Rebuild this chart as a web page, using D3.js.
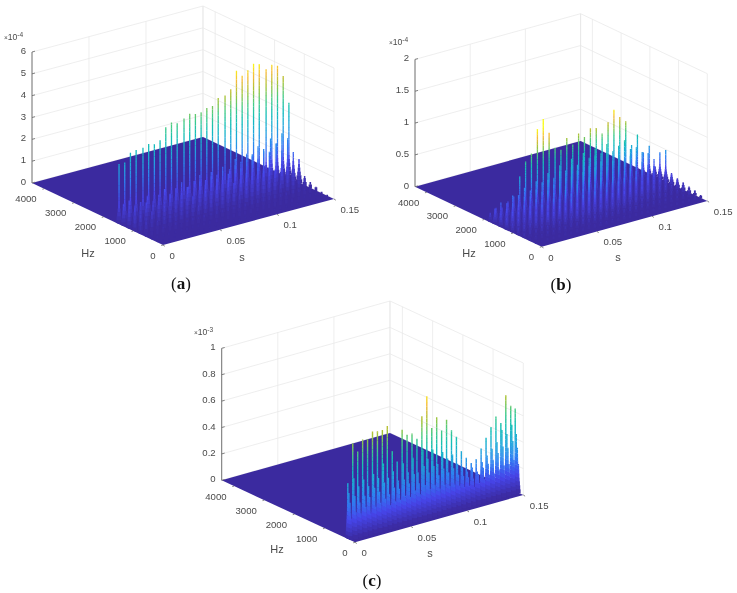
<!DOCTYPE html>
<html>
<head>
<meta charset="utf-8">
<script src="https://cdn.jsdelivr.net/npm/d3@7"></script>
<style>
html,body{margin:0;padding:0;background:#fff;}
svg{display:block;filter:blur(0.35px);}
text{font-family:"Liberation Sans",Arial,sans-serif;font-size:9.6px;fill:#4a4a4a;}
.cap{font-family:"Liberation Serif",serif;font-size:17px;fill:#111;}
</style>
</head>
<body>
<svg id="chart" width="737" height="593"></svg>
<script>
// ---- shared tick labels ----
const sTicks = [0, 0.05, 0.1, 0.15];
const hzTicks = [0, 1000, 2000, 3000, 4000];
const sMax = 0.15, hzMax = 4410;

// ---- panel (a) values (units of 1e-4) ----
const aZTicks = [0, 1, 2, 3, 4, 5, 6];
const aTimes = [0,.005,.010,.015,.021,.026,.031,.036,.041,.046,.051,.057,.062,.067,.072,.077,.082,.087,.093,.098,.103,.108,.113,.118,.123,.129,.134,.139,.144,.149];
const aRowsHz = [1480,1330,1140,950,760,570,380,190];
const aR8 = [2.75,2.75,3.13,3.18,3.2,3.3,3.22,3.33,3.86,4.0,3.9,4.03,4.18,4.1,4.1,4.23,4.26,4.55,4.58,4.8,5.57,5.28,5.46,5.74,5.66,5.28,5.68,5.3,4.76,3.46];
const aR7 = [1.0,1.1,.8,.9,1.1,.8,1.0,1.2,.9,1.1,1.3,1.0,1.2,1.4,1.1,1.4,1.2,1.5,1.3,1.7,1.5,1.8,1.6,2.0,1.7,2.2,1.9,2.3,2.0,.9];
const aR6 = [.8,.9,.7,1.0,.8,.9,.8,1.1,.9,1.0,1.2,.9,1.3,1.1,1.4,1.2,1.5,1.3,1.6,1.4,1.7,1.9,1.6,2.0,1.8,2.1,1.7,1.9,1.5,1.1];
const aR5 = [.6,.7,.5,.7,.6,.8,.6,.7,.8,.7,.9,.8,1.0,.8,1.1,.9,1.2,1.0,1.1,1.3,1.1,1.4,1.2,1.3,1.1,1.2,1.0,.9,.8,.45];
const aR4 = [.4,.5,.4,.4,.5,.5,.4,.6,.5,.5,.6,.6,.7,.5,.7,.6,.7,.6,.8,.7,.8,.7,.8,.7,.6,.7,.6,.5,.5,.3];
const aR3 = [.2,.2,.2,.25,.2,.3,.2,.25,.3,.25,.3,.3,.35,.3,.35,.3,.35,.3,.4,.35,.4,.35,.35,.3,.3,.35,.3,.25,.25,.2];
const aR2 = [.1,.12,.1,.12,.1,.14,.12,.14,.12,.15,.14,.16,.14,.18,.16,.18,.16,.18,.16,.2,.18,.2,.18,.18,.16,.16,.14,.14,.12,.1];
const aR1 = [.05,.06,.05,.06,.06,.07,.06,.07,.07,.08,.07,.08,.08,.09,.08,.09,.08,.09,.08,.1,.09,.1,.09,.09,.08,.08,.07,.07,.06,.08];

// ---- panel (b) values (units of 1e-4) ----
const bZTicks = [0, 0.5, 1, 1.5, 2];
const bTimes = [0,.0053,.0107,.016,.0213,.0267,.032,.0373,.0427,.048,.0533,.0587,.064,.0693,.0747,.08,.0853,.0907,.096,.1013,.1067,.112,.1173,.1227,.128,.1333,.1387,.144,.1493];
const bRowsHz = [1790,1624,1421,1218,1015,812,609,406,203];
const bR9 = [.15,.2,.18,.25,.3,.59,.80,.90,1.26,1.39,1.15,.89,.83,.99,.86,1.01,.93,1.04,1.02,.91,1.06,1.23,1.09,1.0,.6,.74,.43,.51,.16];
const bR8 = [.25,.32,.28,.38,.36,.45,.38,.5,.46,.58,.48,.65,.54,.7,.58,.74,.64,.76,.66,.78,.64,.7,.76,.6,.6,.5,.46,.34,.42];
const bR7 = [.22,.26,.32,.28,.38,.36,.44,.38,.54,.44,.62,.5,.64,.56,.7,.58,.72,.6,.7,.56,.62,.52,.56,.46,.42,.34,.3,.26,.5];
const bR6 = [.19,.26,.23,.31,.28,.36,.33,.44,.38,.5,.44,.56,.46,.58,.48,.6,.5,.56,.46,.52,.42,.44,.36,.38,.3,.28,.22,.24,.18];
const bR5 = [.15,.19,.18,.26,.23,.31,.28,.36,.33,.44,.36,.48,.38,.5,.4,.48,.38,.45,.35,.38,.32,.34,.26,.28,.22,.2,.18,.22,.14];
const bR4 = [.12,.14,.14,.19,.17,.24,.22,.29,.24,.34,.26,.36,.29,.36,.29,.34,.26,.31,.24,.26,.21,.23,.18,.2,.16,.15,.13,.19,.12];
const bR3 = [.08,.1,.09,.12,.1,.14,.12,.16,.14,.2,.16,.2,.16,.2,.16,.18,.14,.18,.14,.16,.12,.14,.12,.12,.1,.1,.1,.14,.1];
const bR2 = [.05,.06,.06,.08,.07,.09,.08,.1,.09,.12,.1,.12,.1,.12,.1,.11,.09,.1,.09,.1,.08,.09,.08,.08,.07,.07,.07,.1,.08];
const bR1 = [.03,.03,.04,.04,.04,.05,.04,.05,.05,.06,.05,.06,.05,.06,.05,.06,.05,.05,.05,.05,.04,.05,.04,.04,.04,.04,.04,.06,.05];

// ---- panel (c) values (units of 1e-3) ----
const cZTicks = [0, 0.2, 0.4, 0.6, 0.8, 1];
const cTimes = [.0002,.0046,.009,.0134,.0178,.0222,.0266,.031,.0354,.0398,.0442,.0486,.053,.0574,.0618,.0662,.0706,.075,.0794,.0838,.0882,.0926,.097,.1014,.1058,.1102,.1146,.119,.1234,.1278,.1322,.1366,.141,.1454,.1494];
const cRowsHz = [245,210,175,140];
const cR4 = [.42,.71,.64,.72,.71,.76,.75,.75,.77,.57,.48,.71,.66,.66,.61,.77,.91,.66,.73,.62,.69,.6,.54,.42,.36,.31,.33,.4,.47,.54,.61,.55,.75,.66,.63];
const cR3 = [.35,.45,.38,.42,.36,.44,.4,.5,.38,.42,.34,.46,.38,.48,.36,.52,.44,.5,.38,.46,.4,.42,.34,.3,.26,.28,.24,.3,.34,.38,.42,.5,.46,.52,.44];
const cR2 = [.28,.32,.26,.3,.28,.34,.3,.36,.26,.3,.28,.34,.3,.36,.28,.4,.34,.38,.3,.34,.3,.32,.26,.24,.22,.2,.22,.26,.28,.3,.34,.38,.36,.4,.34];
const cR1 = [.16,.2,.18,.22,.16,.2,.22,.24,.18,.2,.2,.22,.2,.24,.2,.26,.22,.24,.2,.22,.2,.2,.18,.16,.16,.14,.16,.18,.2,.2,.22,.24,.24,.26,.22];

// ---- colour map (parula) ----
const parulaStops = ["#3b2a9f","#4746eb","#2f80f3","#1fa8db","#12beb9","#45cb86","#a6c336","#f5ba3c","#f9fb15"];
const parula = d3.scaleLinear().domain(d3.range(parulaStops.length).map(i => i / (parulaStops.length - 1))).range(parulaStops).clamp(true);

// ---- panel layouts ----
const panels = [
  {times:aTimes, hz:aRowsHz, rows:[aR8,aR7,aR6,aR5,aR4,aR3,aR2,aR1], zTicks:aZTicks, zMax:6, cMax:5.7, gamma:1.2, exp:"-4", cap:"a",
   front:[163,245], right:[334,199], left:[32,183], h:131, exPos:[4,40], hzLab:[88,257], sLab:[242,261], capPos:[181,289], w:1.3, baseW:6.5, footK:.2},
  {times:bTimes, hz:bRowsHz, rows:[bR9,bR8,bR7,bR6,bR5,bR4,bR3,bR2,bR1], zTicks:bZTicks, zMax:2, cMax:1.25, gamma:1.2, exp:"-4", cap:"b",
   front:[541.7,246.7], right:[707.3,201], left:[415,186.7], h:127.3, exPos:[389,45], hzLab:[469,257], sLab:[618,261], capPos:[561,290], w:1.3, baseW:6.5, footK:.2},
  {times:cTimes, hz:cRowsHz, rows:[cR4,cR3,cR2,cR1], zTicks:cZTicks, zMax:1, cMax:.95, gamma:1.1, exp:"-3", cap:"c",
   front:[355,542.3], right:[523.3,495], left:[221.7,480.3], h:132, exPos:[194,335], hzLab:[277,553], sLab:[430,557], capPos:[372,586], w:1.4, baseW:5.2, footK:.32}
];

const svg = d3.select("#chart");

panels.forEach((p, idx) => {
  const g = svg.append("g");
  const sScale = d3.scaleLinear().domain([0, sMax]).range([0, 1]);
  const hScale = d3.scaleLinear().domain([0, hzMax]).range([0, 1]);
  const zScale = d3.scaleLinear().domain([0, p.zMax]).range([0, p.h]);
  const colourPos = d3.scalePow().exponent(p.gamma).domain([0, 1]).range([0, 1]).clamp(true);
  const ex = p.right[0] - p.front[0], ey = p.right[1] - p.front[1];
  const fx = p.left[0] - p.front[0], fy = p.left[1] - p.front[1];
  const proj = (s, hz, z) => [
    p.front[0] + sScale(s) * ex + hScale(hz) * fx,
    p.front[1] + sScale(s) * ey + hScale(hz) * fy - zScale(z)
  ];
  const line = (a, b) => ({x1:a[0], y1:a[1], x2:b[0], y2:b[1]});
  const drawLines = (sel, data, stroke, width) => sel.selectAll(null).data(data).join("line")
    .attr("x1", d => d.x1).attr("y1", d => d.y1).attr("x2", d => d.x2).attr("y2", d => d.y2)
    .attr("stroke", stroke).attr("stroke-width", width);

  // walls
  const grid = [];
  p.zTicks.forEach(z => {
    grid.push(line(proj(0, hzMax, z), proj(sMax, hzMax, z)));
    grid.push(line(proj(sMax, hzMax, z), proj(sMax, 0, z)));
  });
  sTicks.forEach(s => grid.push(line(proj(s, hzMax, 0), proj(s, hzMax, p.zMax))));
  hzTicks.forEach(h => grid.push(line(proj(sMax, h, 0), proj(sMax, h, p.zMax))));
  grid.push(line(proj(sMax, hzMax, 0), proj(sMax, hzMax, p.zMax)));
  drawLines(g.append("g"), grid, "#e6e6e6", 0.7);

  // floor of the surface
  g.append("polygon")
    .attr("points", [proj(0,0,0), proj(sMax,0,0), proj(sMax,hzMax,0), proj(0,hzMax,0)].map(d => d.join(",")).join(" "))
    .attr("fill", parula(0));

  // clip: spikes may not hang below the two front edges of the floor
  const clipId = "clip" + idx;
  svg.append("clipPath").attr("id", clipId).append("polygon")
    .attr("points", [proj(0,hzMax,0), proj(0,0,0), proj(sMax,0,0), proj(sMax,0,p.zMax), proj(0,hzMax,p.zMax)].map(d => d.join(",")).join(" "));

  // spikes, back row first: wide at the foot, thin above, coloured by height
  const segs = [];
  const step = p.cMax / 32, footH = p.cMax * p.footK;
  p.rows.forEach((vals, r) => {
    vals.forEach((v, i) => {
      const footW = p.baseW * Math.min(1, Math.sqrt(v / footH));
      for (let z = 0; z < v; z += step) {
        const top = Math.min(v, z + step);
        const a = proj(p.times[i], p.hz[r], z), b = proj(p.times[i], p.hz[r], top);
        const foot = Math.max(0, 1 - z / Math.min(footH, v));
        segs.push({x1:a[0], y1:a[1], x2:b[0], y2:b[1] - 0.15,
          c:parula(colourPos(((z + top) / 2) / p.cMax)),
          w:p.w + Math.max(0, footW - p.w) * foot * foot});
      }
    });
  });
  g.append("g").attr("clip-path", "url(#" + clipId + ")").selectAll("line").data(segs).join("line")
    .attr("x1", d => d.x1).attr("y1", d => d.y1).attr("x2", d => d.x2).attr("y2", d => d.y2)
    .attr("stroke", d => d.c).attr("stroke-width", d => d.w);

  // axes: z axis line and ticks
  const axisCol = "#666";
  drawLines(g.append("g"), [line(proj(0,hzMax,0), proj(0,hzMax,p.zMax))], axisCol, 0.9);
  const ticks = [];
  p.zTicks.forEach(z => { const a = proj(0,hzMax,z); ticks.push(line(a, [a[0]+3, a[1]-0.8])); });
  sTicks.forEach(s => { const a = proj(s,0,0); ticks.push(line(a, [a[0]+1.8, a[1]+1.2])); });
  hzTicks.forEach(h => { const a = proj(0,h,0); ticks.push(line(a, [a[0]-1.8, a[1]+0.5])); });
  drawLines(g.append("g"), ticks, axisCol, 0.8);

  // tick labels
  g.append("g").selectAll("text").data(p.zTicks).join("text")
    .attr("x", z => proj(0,hzMax,z)[0] - 6).attr("y", z => proj(0,hzMax,z)[1] + 2)
    .attr("text-anchor", "end").text(z => z);
  g.append("g").selectAll("text").data(hzTicks).join("text")
    .attr("x", h => proj(0,h,0)[0] - 7.5).attr("y", h => proj(0,h,0)[1] + 13.5)
    .attr("text-anchor", "end").text(h => h);
  g.append("g").selectAll("text").data(sTicks).join("text")
    .attr("x", s => proj(s,0,0)[0] + 6.5).attr("y", s => proj(s,0,0)[1] + 14)
    .attr("text-anchor", "start").text(s => s);

  // axis titles
  g.append("text").attr("x", p.hzLab[0]).attr("y", p.hzLab[1]).attr("text-anchor", "middle").style("font-size", "11px").text("Hz");
  g.append("text").attr("x", p.sLab[0]).attr("y", p.sLab[1]).attr("text-anchor", "middle").style("font-size", "11px").text("s");

  // exponent
  const ext = g.append("text").attr("x", p.exPos[0]).attr("y", p.exPos[1]);
  ext.append("tspan").style("font-size", "6.5px").text("×");
  ext.append("tspan").style("font-size", "8.6px").text("10");
  ext.append("tspan").attr("dy", -3).style("font-size", "6.6px").text(p.exp);

  // caption
  const cap = g.append("text").attr("class", "cap").attr("x", p.capPos[0]).attr("y", p.capPos[1]).attr("text-anchor", "middle");
  cap.append("tspan").text("(");
  cap.append("tspan").attr("font-weight", "bold").text(p.cap);
  cap.append("tspan").text(")");
});
</script>
</body>
</html>
